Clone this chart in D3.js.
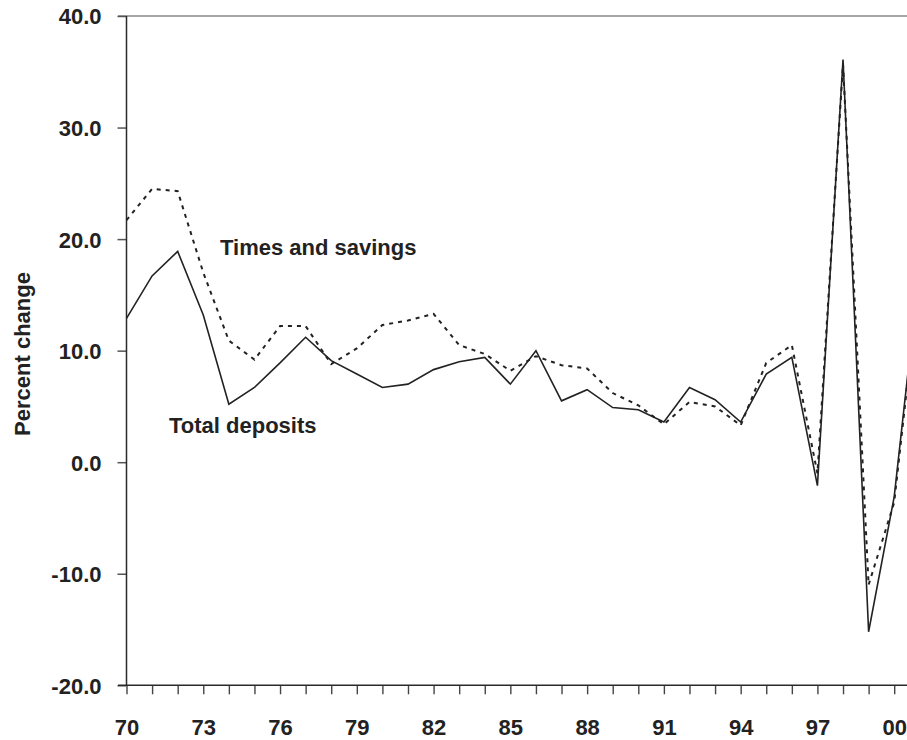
<!DOCTYPE html>
<html>
<head>
<meta charset="utf-8">
<script src="https://cdn.jsdelivr.net/npm/d3@7"></script>
<style>
  html, body { margin: 0; padding: 0; background: #fff; }
  svg { display: block; overflow: hidden; }
  text { font-family: "Liberation Sans", Arial, Helvetica, sans-serif; font-weight: bold; fill: #222; }
</style>
</head>
<body>
<svg id="chart" width="907" height="740"></svg>
<script>
// Annual percent change in deposits, 1970–2001
const years = d3.range(1970, 2002);

const totalDeposits = [
  12.9, 16.7, 18.9, 13.2, 5.2, 6.7, 8.9, 11.2, 9.1, 7.9,
  6.7, 7.0, 8.3, 9.0, 9.4, 7.0, 10.0, 5.5, 6.5, 4.9,
  4.7, 3.6, 6.7, 5.6, 3.6, 7.9, 9.4, -2.1, 36.1, -15.2,
  -3.1, 17.6
];

const timesAndSavings = [
  21.7, 24.5, 24.3, 17.0, 10.9, 9.2, 12.2, 12.2, 8.8, 10.2,
  12.3, 12.7, 13.3, 10.5, 9.7, 8.2, 9.5, 8.7, 8.4, 6.2,
  5.1, 3.4, 5.4, 5.0, 3.3, 8.9, 10.5, -1.0, 35.7, -11.0,
  -3.6, 17.0
];

const yTicks = [40, 30, 20, 10, 0, -10, -20];
const xLabelYears = [1970, 1973, 1976, 1979, 1982, 1985, 1988, 1991, 1994, 1997, 2000];
const yTitle = "Percent change";
const seriesLabels = ["Times and savings", "Total deposits"];

const svg = d3.select("#chart");

const x = d3.scaleLinear().domain([1970, 2000]).range([126.5, 894.2]);
const y = d3.scaleLinear().domain([-20, 40]).range([685.3, 16]);

const axisColor = "#2a2a2a";
const fontSize = 22;

// top rule at 40
svg.append("line")
  .attr("x1", 118).attr("x2", 907)
  .attr("y1", y(40)).attr("y2", y(40))
  .attr("stroke", "#8a8a8a").attr("stroke-width", 1.5);

// y axis (plain hyphen for negatives)
const yAxis = d3.axisLeft(y)
  .tickValues(yTicks)
  .tickSize(9)
  .tickPadding(16)
  .tickFormat(d => d.toFixed(1));

const gy = svg.append("g")
  .attr("transform", `translate(${x(1970)},0)`)
  .call(yAxis);
gy.select(".domain").remove();
gy.selectAll(".tick line").attr("stroke", "#555").attr("stroke-width", 1.5);
gy.selectAll(".tick text")
  .attr("font-size", fontSize)
  .attr("dy", "0.36em")
  .attr("fill", "#222");

// vertical axis line
svg.append("line")
  .attr("x1", x(1970)).attr("x2", x(1970))
  .attr("y1", y(40)).attr("y2", y(-20))
  .attr("stroke", axisColor).attr("stroke-width", 1.5);

// x axis
const xAxis = d3.axisBottom(x)
  .tickValues(d3.range(1970, 2002))
  .tickSize(9)
  .tickFormat(d => xLabelYears.includes(d) ? String(d).slice(2) : "");

const gx = svg.append("g")
  .attr("transform", `translate(0,${y(-20)})`)
  .call(xAxis);
gx.select(".domain").remove();
gx.selectAll(".tick line").attr("stroke", "#444").attr("stroke-width", 1.4);
gx.selectAll(".tick text")
  .attr("font-size", fontSize)
  .attr("y", 0)
  .attr("dy", 0)
  .attr("transform", "translate(0,50)")
  .attr("fill", "#222");

svg.append("line")
  .attr("x1", 118).attr("x2", 907)
  .attr("y1", y(-20)).attr("y2", y(-20))
  .attr("stroke", axisColor).attr("stroke-width", 1.5);

// y axis title
svg.append("text")
  .attr("transform", `translate(30,${354}) rotate(-90)`)
  .attr("text-anchor", "middle")
  .attr("font-size", fontSize)
  .text(yTitle);

// series
const line = d3.line()
  .x((d, i) => x(years[i]))
  .y(d => y(d));

svg.append("path")
  .datum(timesAndSavings)
  .attr("fill", "none")
  .attr("stroke", "#222")
  .attr("stroke-width", 2)
  .attr("stroke-dasharray", "4,5")
  .attr("d", line);

svg.append("path")
  .datum(totalDeposits)
  .attr("fill", "none")
  .attr("stroke", "#222")
  .attr("stroke-width", 1.6)
  .attr("stroke-linejoin", "miter")
  .attr("d", line);

// series labels
svg.append("text")
  .attr("x", 220).attr("y", 255)
  .attr("font-size", fontSize)
  .text(seriesLabels[0]);

svg.append("text")
  .attr("x", 169).attr("y", 433)
  .attr("font-size", fontSize)
  .text(seriesLabels[1]);
</script>
</body>
</html>
